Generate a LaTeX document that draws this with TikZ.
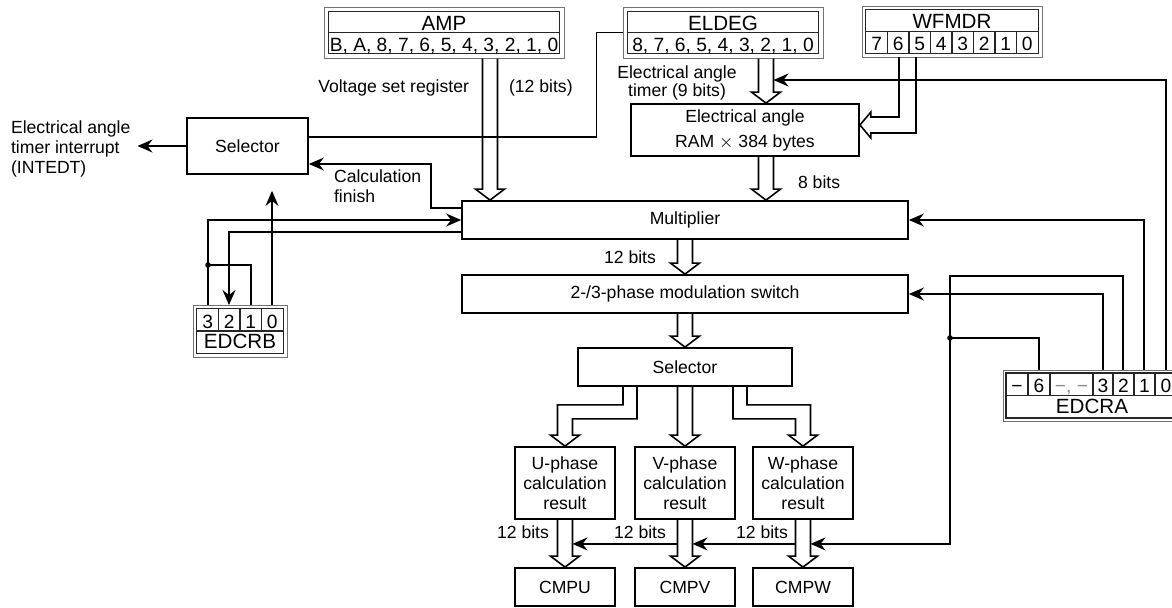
\documentclass[tikz,border=0pt]{standalone}
\usepackage{fontspec}
\setmainfont{Liberation Sans}
\usetikzlibrary{calc,arrows.meta}

\tikzset{
  box/.style={draw, line width=0.9pt, inner sep=0pt, align=center},
  regout/.style={draw=black!55, line width=0.5pt, inner sep=0pt},
  regin/.style={draw=black!85, line width=0.55pt},
  regname/.style={font=\fontsize{10.3}{12}\selectfont, inner sep=0pt},
  regbit/.style={font=\fontsize{9.6}{11}\selectfont, inner sep=0pt},
  wire/.style={line width=0.8pt},
  bus/.style={line width=0.8pt, line join=miter},
  arr/.style={-{Stealth[length=7.5pt,width=6.5pt,inset=2.5pt]}},
}
\newcommand{\busdown}[2]{\draw[bus] ($(#1)+(-7.5,0)$) -- ($(#2)+(-7.5,-11)$) -- ++(-7,0) -- (#2) -- ++(14.5,-11) -- ++(-7,0) -- ($(#1)+(7.5,0)$);}

\begin{document}
\begin{tikzpicture}[x=0.5pt,y=-0.5pt,font=\fontsize{8.8}{10}\selectfont]
\useasboundingbox (0,0) rectangle (1172,607);
\clip (0,0) rectangle (1172,607);

% registers
\node[regout, minimum width=120pt, minimum height=25.5pt] (amp) at (444,32.5) {};
\draw[regin] ($(amp.north west)+(5,5)$) rectangle ($(amp.south east)+(-5,-5)$);
\draw[regin] ($(amp.west)+(5,0)$) -- ($(amp.east)+(-5,0)$);
\node[regname, anchor=base] (ampname) at (444,30) {AMP};
\node[regbit, anchor=base] (ampbits) at (444,51.5) {B, A, 8, 7, 6, 5, 4, 3, 2, 1, 0};

\node[regout, minimum width=100pt, minimum height=25.5pt] (eldeg) at (723,32.5) {};
\draw[regin] ($(eldeg.north west)+(5,5)$) rectangle ($(eldeg.south east)+(-5,-5)$);
\draw[regin] ($(eldeg.west)+(5,0)$) -- ($(eldeg.east)+(-5,0)$);
\node[regname, anchor=base] (eldname) at (723,30) {ELDEG};
\node[regbit, anchor=base] (eldbits) at (723,51.5) {8, 7, 6, 5, 4, 3, 2, 1, 0};

\node[regout, minimum width=90pt, minimum height=25.5pt] (wfmdr) at (952,31.5) {};
\draw[regin] ($(wfmdr.north west)+(4,4)$) rectangle ($(wfmdr.south east)+(-4,-4)$);
\draw[regin] ($(wfmdr.west)+(4,0)$) -- ($(wfmdr.east)+(-4,0)$);
\foreach \i in {1,...,7} \draw[regin] (866+21.5*\i,31.5) -- (866+21.5*\i,53.5);
\node[regname, anchor=base] (wfname) at (952,28.5) {WFMDR};
\foreach \b [count=\i from 0] in {7,...,0} \node[regbit, anchor=base] at (876.75+21.5*\i,50) {\b};

\node[regout, minimum width=47pt, minimum height=26pt] (edcrb) at (240,331) {};
\draw[regin] ($(edcrb.north west)+(4,4)$) rectangle ($(edcrb.south east)+(-4,-4)$);
\draw[regin] ($(edcrb.west)+(4,0)$) -- ($(edcrb.east)+(-4,0)$);
\foreach \i in {1,2,3} \draw[regin] (197+21.5*\i,309) -- (197+21.5*\i,331);
\foreach \b [count=\i from 0] in {3,...,0} \node[regbit, anchor=base] at (207.75+21.5*\i,328) {\b};
\node[regname, anchor=base] (rbname) at (240,348.5) {EDCRB};

\node[regout, minimum width=89pt, minimum height=25.5pt] (edcra) at (1092,395.5) {};
\draw[regin] ($(edcra.north west)+(3.5,3.5)$) rectangle ($(edcra.south east)+(-3.5,-3.5)$);
\draw[regin] ($(edcra.west)+(3.5,0)$) -- ($(edcra.east)+(-3.5,0)$);
\foreach \xx in {1028,1050,1093,1113,1134,1155} \draw[regin] (\xx,373.5) -- (\xx,395.5);
\foreach \t/\xx in {−/1017, 6/1039, 3/1103, 2/1123.5, 1/1144.5, 0/1166} \node[regbit, anchor=base] at (\xx,392) {\t};
\node[regbit, anchor=base, text=black!45] (rafree) at (1071.5,392) {−, −};
\node[regname, anchor=base] (raname) at (1092,413.5) {EDCRA};

% blocks
\node[box, minimum width=60.5pt, minimum height=28pt] (sel1) at (247.5,146) {Selector};
\node[box, minimum width=114pt, minimum height=26pt, font=\fontsize{8.8}{12.5}\selectfont] (ram) at (745,130) {Electrical angle\\RAM $\times$ 384 bytes};
\node[box, minimum width=223pt, minimum height=19pt] (mult) at (685,220) {Multiplier};
\node[box, minimum width=223pt, minimum height=19pt] (sw) at (685,294) {2-/3-phase modulation switch};
\node[box, minimum width=107pt, minimum height=19pt] (sel2) at (685,367) {Selector};
\node[box, minimum width=50pt, minimum height=36pt] (ures) at (565,483) {U-phase\\calculation\\result};
\node[box, minimum width=50pt, minimum height=36pt] (vres) at (685,483) {V-phase\\calculation\\result};
\node[box, minimum width=50pt, minimum height=36pt] (wres) at (803,483) {W-phase\\calculation\\result};
\node[box, minimum width=50pt, minimum height=19pt] (cmpu) at (565,587) {CMPU};
\node[box, minimum width=50pt, minimum height=19pt] (cmpv) at (685,587) {CMPV};
\node[box, minimum width=50pt, minimum height=19pt] (cmpw) at (803,587) {CMPW};

% labels
\node[anchor=base east] (vset) at (476,92) {Voltage set register};
\node[anchor=base west] (ampw) at (502,92) {(12 bits)};
\node[align=center, font=\fontsize{8.8}{9}\selectfont] (eldw) at (677,82.5) {Electrical angle\\timer (9 bits)};
\node[anchor=base west] (ramw) at (791,188) {8 bits};
\node[anchor=base east] (multw) at (663,263) {12 bits};
\node[anchor=base] (uw) at (523,538) {12 bits};
\node[anchor=base] (vw) at (640,538) {12 bits};
\node[anchor=base] (ww) at (762,538) {12 bits};
\node[anchor=west, align=left] (finish) at (327,186.5) {Calculation\\finish};
\node[anchor=west, align=left] (intr) at (4,149) {Electrical angle\\timer interrupt\\(INTEDT)};

% buses
\coordinate (ampcol) at (490,0);
\coordinate (eldcol) at (766,0);
\busdown{amp.south -| ampcol}{mult.north -| ampcol}
\busdown{eldeg.south -| eldcol}{ram.north -| eldcol}
\busdown{ram.south -| eldcol}{mult.north -| eldcol}
\busdown{mult.south}{sw.north}
\busdown{sw.south}{sel2.north}
\busdown{sel2.south}{vres.north}
\busdown{ures.south}{cmpu.north}
\busdown{vres.south}{cmpv.north}
\busdown{wres.south}{cmpw.north}
\draw[bus] ($(sel2.south)+(-62,0)$) -- ++(0,18) -| ($(ures.north)+(-7.5,-11)$) -- ++(-7,0) -- (ures.north) -- ++(14.5,-11) -- ++(-7,0) |- ($(sel2.south)+(-48,32)$) -- ++(0,-32);
\draw[bus] ($(sel2.south)+(48,0)$) -- ++(0,32) -| ($(wres.north)+(-7.5,-11)$) -- ++(-7,0) -- (wres.north) -- ++(14.5,-11) -- ++(-7,0) |- ($(sel2.south)+(62,18)$) -- ++(0,-18);
\coordinate (wf6) at (899,57);
\coordinate (wf5) at (916,57);
\coordinate (wftip) at ($(ram.east)+(0,-5)$);
\draw[bus] (wf6) |- ($(wftip)+(11,-8)$) -- ++(0,-5) -- (wftip) -- ++(11,13) -- ++(0,-5) -| (wf5);

% wires
\draw[wire] (eldeg.west) -- ++(-26,0) |- ($(sel1.east)+(0,-9)$);
\draw[wire,arr] ($(mult.west)+(0,-12)$) -- ++(-30,0) |- ($(sel1.east)+(0,18)$);
\draw[wire,arr] (sel1.west) -- (sel1.west -| intr.east);

\coordinate (rb3) at (208,305);
\coordinate (rb2) at (229,305);
\coordinate (rb1) at (251,305);
\coordinate (rb0) at (272,305);
\coordinate (dotb) at (208,265);
\draw[wire,arr] (rb3) |- (mult.west);
\draw[wire] (rb1) |- (dotb);
\fill (dotb) circle (1.4pt);
\draw[wire,arr] ($(mult.west)+(0,12)$) -| (rb2);
\draw[wire,arr] (rb0) -- ($(sel1.south -| rb0)+(0,16)$);

\coordinate (ra6) at (1039,370);
\coordinate (ra3) at (1103,370);
\coordinate (ra2) at (1123,370);
\coordinate (ra1) at (1144,370);
\coordinate (ra0) at (1166,370);
\coordinate (dota) at (950,338);
\coordinate (rail) at (950,276);
\coordinate (eldin) at ($(eldcol)+(7.5,80)$);
\draw[wire,arr] (ra0) |- (eldin);
\draw[wire,arr] (ra1) |- (mult.east);
\draw[wire,arr] (ra3) |- (sw.east);
\draw[wire] (ra6) |- (dota);
\fill (dota) circle (1.4pt);
\draw[wire,arr] (ra2) |- (rail) |- ($(wres.south)+(7.5,24)$);
\draw[wire,arr] ($(wres.south)+(-7.5,24)$) -- ($(vres.south)+(7.5,24)$);
\draw[wire,arr] ($(vres.south)+(-7.5,24)$) -- ($(ures.south)+(7.5,24)$);
\end{tikzpicture}
\end{document}
